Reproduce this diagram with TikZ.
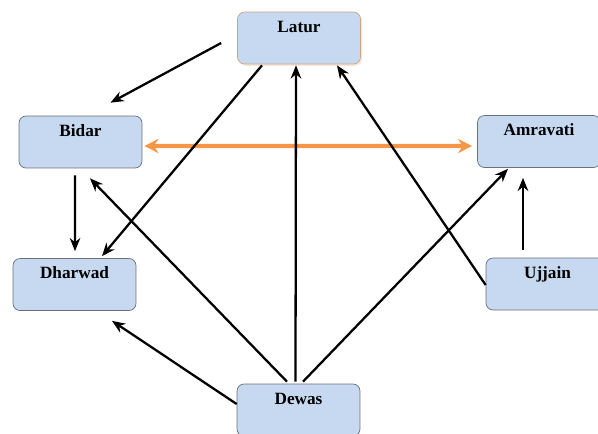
\documentclass[tikz,border=0pt]{standalone}
\usepackage{fontspec}
\setmainfont{Liberation Serif}
\usepackage{tikz}
\usetikzlibrary{arrows.meta,calc,shadows}

\definecolor{boxfill}{RGB}{198,217,241}
\definecolor{boxline}{RGB}{105,112,122}
\definecolor{laturline}{RGB}{205,165,130}
\definecolor{linkorange}{RGB}{247,150,70}

\begin{document}
\begin{tikzpicture}[x=0.02cm,y=-0.02cm,
        town/.style={draw=boxline,fill=boxfill,rounded corners=0.14cm,minimum width=2.46cm,
            inner ysep=0pt,text height=0.4cm,text depth=0.64cm,
            font=\fontsize{9.8}{11}\selectfont\bfseries},
        arr/.style={line width=1.3pt,-{Stealth[length=7.5pt,width=6pt]}},
        both/.style={line width=2.3pt,draw=linkorange,{Stealth[length=8pt,width=8pt]}-{Stealth[length=8pt,width=8pt]}}]
        \clip (0,0) rectangle (598,433);
        \node[town,draw=laturline,drop shadow={opacity=0.25,shadow xshift=1pt,shadow yshift=-1pt,fill=laturline}] (latur) at (299,38) {Latur};
        \node[town] (bidar) at (80.5,142) {Bidar};
        \node[town] (amravati) at (539,141.5) {Amravati};
        \node[town] (dharwad) at (74.5,284.5) {Dharwad};
        \node[town] (ujjain) at (547.5,284) {Ujjain};
        \node[town] (dewas) at (298.5,410) {Dewas};
        \draw[arr] ($(latur.west)+(-16,5)$) -- ($(bidar.north)+(30,-13)$);
        \draw[both] ($(bidar.east)+(2,4)$) -- ($(amravati.west)+(-5,4.5)$);
        \draw[arr] ($(bidar.south)+(-5.5,7)$) -- ($(dharwad.north)+(0.5,-7)$);
        \draw[arr] ($(latur.south)+(-37,1)$) -- ($(dharwad.north)+(27.5,-2)$);
        \draw[arr] ($(dewas.north)+(-3,-2)$) -- ($(latur.south)+(-3,1)$);
        \draw[arr] ($(ujjain.west)+(0,1)$) -- ($(latur.south)+(38,1)$);
        \draw[arr] ($(dewas.north)+(-11.5,-2)$) -- ($(bidar.south)+(9.5,10)$);
        \draw[arr] ($(dewas.north)+(4.5,-2)$) -- ($(amravati.south)+(-31,1)$);
        \draw[arr] ($(dewas.west)+(0,-6)$) -- ($(dharwad.south)+(37.5,10)$);
        \draw[arr] ($(ujjain.north)+(-24.5,-8)$) -- ($(amravati.south)+(-16,10)$);
    \end{tikzpicture}
\end{document}
